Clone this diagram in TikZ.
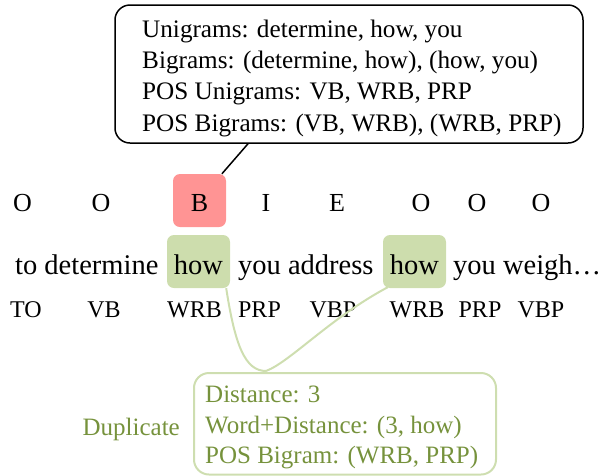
\documentclass[tikz,border=0pt]{standalone}
\usepackage{fontspec}
\setmainfont{Liberation Serif}
\usetikzlibrary{calc}
\definecolor{tagred}{RGB}{255,148,148}
\definecolor{hlgreen}{RGB}{205,221,173}
\definecolor{dupgreen}{RGB}{118,146,60}
\definecolor{lngreen}{RGB}{206,222,176}
\tikzset{
  tag/.style={anchor=base, inner sep=0pt, font=\fontsize{26}{30}\selectfont},
  postag/.style={anchor=base, inner sep=0pt, font=\fontsize{24}{28}\selectfont},
  word/.style={anchor=base west, inner sep=0pt, font=\fontsize{28.5}{34}\selectfont},
  hlbox/.style={fill=hlgreen, rounded corners=7pt, minimum width=63pt, minimum height=53pt,
    text height=25pt, text depth=0pt, inner sep=0pt, font=\fontsize{28.5}{34}\selectfont},
  redbox/.style={fill=tagred, rounded corners=7pt, minimum width=53pt, minimum height=53pt,
    text height=22pt, text depth=0pt, inner sep=0pt, font=\fontsize{26}{30}\selectfont},
  calloutbox/.style={draw=black, line width=1.5pt, rounded corners=15pt,
    minimum width=468pt, minimum height=138pt, inner sep=0pt},
  calloutline/.style={black, line width=1.5pt},
  dupbox/.style={draw=lngreen, line width=2pt, rounded corners=15pt,
    minimum width=302pt, minimum height=101.5pt, inner sep=0pt, anchor=north west},
  duptext/.style={text=dupgreen, inner sep=0pt, align=left, anchor=north west,
    font=\fontsize{25}{30.5}\selectfont},
  dupcurve/.style={draw=lngreen, line width=2pt},
}
\begin{document}
\begin{tikzpicture}[x=1pt,y=-1pt]
\useasboundingbox (0,0) rectangle (603,475);

% callout
\node[calloutbox] (callout) at (349,74) {};
\node[anchor=north west, inner sep=0pt, align=left, font=\fontsize{25.2}{31.3}\selectfont]
  (callouttext) at (142,19.6)
  {Unigrams: determine, how, you\\
   Bigrams: (determine, how), (how, you)\\
   POS Unigrams: VB, WRB, PRP\\
   POS Bigrams: (VB, WRB), (WRB, PRP)};

% tag row
\node[tag] (t1) at (22.5,211.5) {O};
\node[tag] (t2) at (101,211.5) {O};
\node[redbox] (tB) at (199.5,200.5) {B};
\node[tag] (t4) at (266,211.5) {I};
\node[tag] (t5) at (337,211.5) {E};
\node[tag] (t6) at (421,211.5) {O};
\node[tag] (t7) at (477,211.5) {O};
\node[tag] (t8) at (541,211.5) {O};

% word row
\node[word] (w1) at (15,274) {to determine};
\node[hlbox] (how1) at (198.5,261.5) {how};
\node[word] (w3) at (238,274) {you address};
\node[hlbox] (how2) at (414.5,261.5) {how};
\node[word] (w5) at (453,274) {you weigh…};

% POS row
\node[postag] (p1) at (26,317) {TO};
\node[postag] (p2) at (104,317) {VB};
\node[postag] (p3) at (194.5,317) {WRB};
\node[postag] (p4) at (259.5,317) {PRP};
\node[postag] (p5) at (333,317) {VBP};
\node[postag] (p6) at (417,317) {WRB};
\node[postag] (p7) at (480,317) {PRP};
\node[postag] (p8) at (541,317) {VBP};

% duplicate box
\node[dupbox] (dup) at (193,372) {};
\node[duptext] (duptxt) at (205,386)
  {Distance: 3\\
   Word+Distance: (3, how)\\
   POS Bigram: (WRB, PRP)};
\node[anchor=base east, inner sep=0pt, text=dupgreen, font=\fontsize{25}{30}\selectfont]
  (duplabel) at (180,435) {Duplicate};

% connectors
\draw[calloutline] ($(callout.south)+(-101,0)$) -- (tB.50);
\coordinate (join) at ($(dup.north west)+(73,-1)$);
\draw[dupcurve] ($(how1.south east)+(-4,0)$) .. controls (235,345) and (245,371) .. (join);
\draw[dupcurve] (join) .. controls (290,362) and (330,318) .. ($(how2.south west)+(5,-1)$);
\end{tikzpicture}
\end{document}
